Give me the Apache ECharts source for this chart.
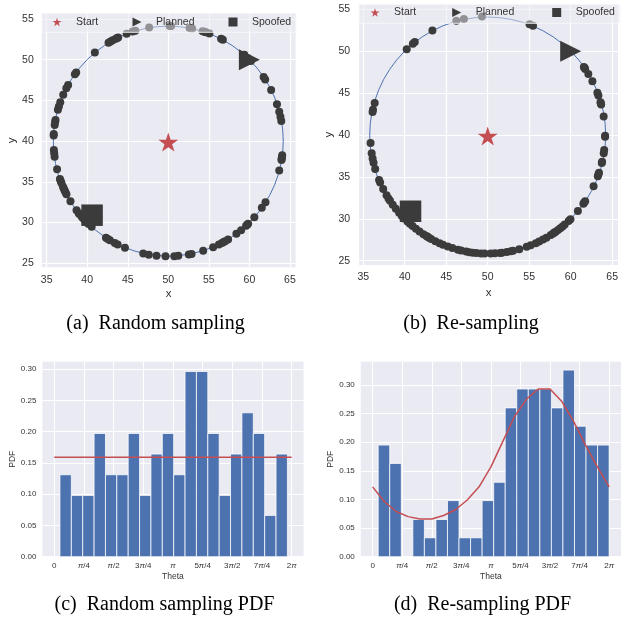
<!DOCTYPE html>
<html><head><meta charset="utf-8">
<script src="https://cdn.jsdelivr.net/npm/echarts@6/dist/echarts.min.js"></script>
<style>html,body{margin:0;padding:0;background:#fff}#c{width:621px;height:622px}</style>
</head><body><div id="c"></div>
<script>
// ---------------- data ----------------
const startPoint = [50, 40];
const plannedPoint = [60, 50];
const spoofedA = [40.6, 30.9];
const spoofedB = [40.7, 30.9];
const circleCenter = [50, 40];
const circleRadius = 14.15;

// sample angles (degrees)
const thetaA = [10.0, 12.2, 14.8, 18.7, 26.3, 32.4, 33.8, 44.0, 46.0, 48.5,
  61.6, 62.6, 69.0, 70.9, 71.6, 72.6, 78.0, 79.3, 88.6, 89.3,
  99.6, 106.7, 108.1, 111.3, 115.9, 116.5, 117.2, 119.0, 120.2, 121.4,
  129.8, 143.4, 144.5, 150.8, 152.7, 156.3, 160.3, 162.5,
  164.2, 169.4, 170.5, 171.9, 176.4, 177.2, 184.4, 186.1, 187.8, 194.2,
  199.2, 200.3, 201.5, 203.4, 204.3, 205.3, 206.3, 207.4, 211.5,
  216.9, 218.7, 219.2, 221.0, 222.0, 223.5, 225.0, 226.0, 228.1,
  237.1, 238.2, 239.4, 242.2, 243.8, 247.8, 257.4, 260.2, 264.1,
  268.6, 273.0, 275.0, 280.3, 281.7, 287.7, 293.0, 296.2, 297.9, 298.8, 299.7, 301.4,
  306.4, 309.4, 312.7, 313.4, 314.1, 318.6, 324.6, 327.9,
  345.2, 350.6, 351.2, 351.8, 353.0];
const thetaB = [9.0, 14.9, 15.5, 16.1, 19.5, 20.9, 26.9, 31.0, 33.9, 34.5, 35.0,
  67.3, 69.1, 92.8, 101.7, 105.5, 118.1, 128.4, 129.6, 133.6, 164.3,
  167.7, 168.8, 183.8, 188.8, 191.4, 193.5, 196.6,
  202.3, 203.6, 207.1, 210.5, 212.3, 213.7, 216.0, 218.5,
  221.0, 223.0, 225.0, 227.0, 228.5, 230.2, 232.3, 234.5, 236.8,
  238.5, 239.2, 240.0, 241.2, 243.5, 245.8, 247.6, 250.1, 252.5,
  255.3, 256.9, 259.4, 261.0, 262.7, 264.5, 266.8, 268.5, 271.5,
  273.5, 276.0, 277.0, 279.4, 281.4, 282.5, 285.6, 289.4,
  291.5, 294.2, 296.0, 298.1, 300.0, 302.5, 303.9, 304.6, 305.4, 306.8,
  308.2, 309.6, 311.0, 313.6, 314.8, 320.2, 324.6,
  325.3, 326.1, 334.4, 339.7, 340.5, 341.4,
  346.3, 347.0, 351.2, 352.8, 359.2, 359.6];

// histograms (theta in radians)
const binStartC = 0.151, binWidthC = 0.301;
const pdfC = [0.131, 0.098, 0.098, 0.197, 0.131, 0.131, 0.197, 0.098, 0.164, 0.197,
  0.131, 0.296, 0.296, 0.197, 0.098, 0.164, 0.230, 0.197, 0.066, 0.164];
const uniformPdf = 0.159;
const uniformTheta = [0, 6.283];

const binStartD = 0.148, binWidthD = 0.3067;
const pdfD = [0.195, 0.163, 0, 0.065, 0.033, 0.065, 0.098, 0.033, 0.033, 0.098,
  0.130, 0.260, 0.293, 0.293, 0.293, 0.260, 0.326, 0.228, 0.195, 0.195];
const fitTheta = [0, 0.314, 0.628, 0.942, 1.257, 1.571, 1.885, 2.199, 2.513, 2.827, 3.142,
  3.456, 3.770, 4.084, 4.398, 4.712, 5.027, 5.341, 5.655, 5.969, 6.283];
const fitPdfD = [0.122, 0.096, 0.079, 0.070, 0.066, 0.066, 0.072, 0.082, 0.099, 0.122, 0.157,
  0.201, 0.245, 0.275, 0.293, 0.293, 0.271, 0.236, 0.195, 0.157, 0.122];

// ticks
const xTicksTop = [35, 40, 45, 50, 55, 60, 65];
const yTicksTop = [25, 30, 35, 40, 45, 50, 55];
const pdfTicks = [0, 0.05, 0.10, 0.15, 0.20, 0.25, 0.30];
const thetaTickLabels = ['0', 'π/4', 'π/2', '3π/4', 'π', '5π/4', '3π/2', '7π/4', '2π'];
const thetaTicks = thetaTickLabels.map((_, k) => k * Math.PI / 4);

// ---------------- style ----------------
const BG = '#EAEAF2', BLUE = '#4C72B0', RED = '#C44E52', DARK = '#3b3b3b';
const FONT = 'Liberation Sans';
const TXT = '#333';
const STAR = 'path://M0,-100L22.45,-30.9L95.1,-30.9L36.3,11.8L58.8,80.9L0,38.2L-58.8,80.9L-36.3,11.8L-95.1,-30.9L-22.45,-30.9Z';
const TRI = 'path://M0,0L20,10L0,20Z';

function onCircle(deg) {
  const t = deg * Math.PI / 180;
  return [circleCenter[0] + circleRadius * Math.cos(t), circleCenter[1] + circleRadius * Math.sin(t)];
}

const grids = [
  {left: 41.8, top: 13.3, width: 253.8, height: 254},
  {left: 359.1, top: 4.3, width: 260.8, height: 260.6},
  {left: 42.4, top: 361.7, width: 261.1, height: 195},
  {left: 360.8, top: 361.7, width: 261.8, height: 195}
].map(g => Object.assign({show: true, backgroundColor: BG, borderWidth: 0}, g));

function valAxis(gi, min, max, ticks, o) {
  return {
    type: 'value', gridIndex: gi, min: min, max: max,
    name: o.name, nameLocation: 'middle', nameGap: o.nameGap,
    nameTextStyle: {fontSize: o.nameSize, color: TXT, fontFamily: FONT},
    axisLine: {show: false},
    axisTick: {show: false, customValues: ticks},
    axisLabel: {customValues: ticks, fontSize: o.labelSize, color: TXT, fontFamily: FONT,
      margin: o.margin, formatter: o.formatter, rich: o.rich},
    splitLine: {show: true, lineStyle: {color: '#ffffff', width: o.gridWidth}}
  };
}
const thetaFmt = v => {
  const k = Math.round(v / (Math.PI / 4));
  return (thetaTickLabels[k] || '').replace('π', '{i|π}');
};
const pdfFmt = v => v.toFixed(2);
const thetaRich = {i: {fontStyle: 'italic', fontSize: 8, color: TXT, fontFamily: FONT}};

const xAxis = [
  valAxis(0, 34.4, 65.7, xTicksTop, {name: 'x', nameGap: 21, nameSize: 11.5, labelSize: 10.5, margin: 7, gridWidth: 1.2}),
  valAxis(1, 34.5, 65.7, xTicksTop, {name: 'x', nameGap: 22, nameSize: 11.5, labelSize: 10.5, margin: 7, gridWidth: 1.2}),
  valAxis(2, -0.314, 6.597, thetaTicks, {name: 'Theta', nameGap: 15, nameSize: 8.5, labelSize: 8, margin: 5, gridWidth: 1, formatter: thetaFmt, rich: thetaRich}),
  valAxis(3, -0.314, 6.597, thetaTicks, {name: 'Theta', nameGap: 15, nameSize: 8.5, labelSize: 8, margin: 5, gridWidth: 1, formatter: thetaFmt, rich: thetaRich})
];
const yAxis = [
  valAxis(0, 24.5, 55.7, yTicksTop, {name: 'y', nameGap: 23, nameSize: 11.5, labelSize: 10.5, margin: 8, gridWidth: 1.2}),
  valAxis(1, 24.5, 55.6, yTicksTop, {name: 'y', nameGap: 22, nameSize: 11.5, labelSize: 10.5, margin: 9, gridWidth: 1.2}),
  valAxis(2, 0, 0.3117, pdfTicks, {name: 'PDF', nameGap: 25, nameSize: 8.5, labelSize: 8, margin: 6, gridWidth: 1, formatter: pdfFmt}),
  valAxis(3, 0, 0.3407, pdfTicks, {name: 'PDF', nameGap: 25, nameSize: 8.5, labelSize: 8, margin: 6, gridWidth: 1, formatter: pdfFmt})
];

function circleSeries(i) {
  return {
    type: 'custom', xAxisIndex: i, yAxisIndex: i, z: 1, silent: true,
    data: [[circleCenter[0], circleCenter[1], circleRadius]],
    renderItem: (params, api) => {
      const c = api.coord([api.value(0), api.value(1)]);
      const s = api.size([api.value(2), api.value(2)]);
      return {type: 'circle', shape: {cx: c[0], cy: c[1], r: (s[0] + s[1]) / 2},
        style: {fill: null, stroke: BLUE, lineWidth: 1}};
    }
  };
}
function scatterSet(i, thetas, spoof) {
  return [
    circleSeries(i),
    {type: 'scatter', name: 'samples', xAxisIndex: i, yAxisIndex: i, z: 2, silent: true,
      symbol: 'circle', symbolSize: 8, itemStyle: {color: DARK, opacity: 1},
      data: thetas.map(onCircle)},
    {type: 'scatter', name: 'Planned', xAxisIndex: i, yAxisIndex: i, z: 3, silent: true,
      symbol: TRI, symbolSize: 21, itemStyle: {color: DARK, opacity: 1}, data: [plannedPoint]},
    {type: 'scatter', name: 'Spoofed', xAxisIndex: i, yAxisIndex: i, z: 3, silent: true,
      symbol: 'rect', symbolSize: 21.5, itemStyle: {color: DARK, opacity: 1}, data: [spoof]},
    {type: 'scatter', name: 'Start', xAxisIndex: i, yAxisIndex: i, z: 3, silent: true,
      symbol: STAR, symbolSize: [20, 19], symbolOffset: [0, 1], itemStyle: {color: RED, opacity: 1}, data: [startPoint]}
  ];
}
function histSeries(i, start, width, vals) {
  return {
    type: 'custom', xAxisIndex: i, yAxisIndex: i, z: 2, silent: true,
    data: vals.map((v, k) => [start + k * width, start + (k + 1) * width, v]),
    encode: {x: [0, 1], y: 2},
    renderItem: (params, api) => {
      const v = api.value(2);
      if (!v) return null;
      const p0 = api.coord([api.value(0), v]);
      const p1 = api.coord([api.value(1), 0]);
      return {type: 'rect', shape: {x: p0[0], y: p0[1], width: p1[0] - p0[0], height: p1[1] - p0[1]},
        style: {fill: BLUE, stroke: 'rgba(255,255,255,0.85)', lineWidth: 0.9}};
    }
  };
}
function redLine(i, xs, ys) {
  return {type: 'line', xAxisIndex: i, yAxisIndex: i, z: 3, silent: true, symbol: 'none',
    lineStyle: {color: RED, width: 1.5}, data: xs.map((x, k) => [x, ys[k]])};
}

const series = [].concat(
  scatterSet(0, thetaA, spoofedA),
  scatterSet(1, thetaB, spoofedB),
  [histSeries(2, binStartC, binWidthC, pdfC),
   redLine(2, uniformTheta, uniformTheta.map(() => uniformPdf)),
   histSeries(3, binStartD, binWidthD, pdfD),
   redLine(3, fitTheta, fitPdfD)]
);

function oneLegend(name, left, top) {
  return {data: [name], left: left, top: top, padding: 0, itemGap: 0, itemWidth: 9, itemHeight: 9,
    selectedMode: false, z: 20,
    textStyle: {fontSize: 10.5, color: TXT, fontFamily: FONT, padding: [0, 0, 0, 9.5]}};
}
const legend = [
  oneLegend('Start', 52.5, 16.5), oneLegend('Planned', 132.5, 16.5), oneLegend('Spoofed', 228.5, 16.5),
  oneLegend('Start', 370.5, 7), oneLegend('Planned', 452.2, 7), oneLegend('Spoofed', 552.2, 7)
];

function caption(text, x, y) {
  return {type: 'text', x: x, y: y, z: 30,
    style: {text: text, fontSize: 20, fontFamily: 'Liberation Serif', fill: '#000',
      textAlign: 'center', textVerticalAlign: 'middle', align: 'center', verticalAlign: 'middle'}};
}
const graphic = [
  {type: 'rect', z: 10, shape: {x: 42, y: 13.3, width: 254, height: 19, r: 2},
    style: {fill: 'rgba(234,234,242,0.5)', stroke: 'rgba(248,248,251,0.9)', lineWidth: 1}},
  {type: 'rect', z: 10, shape: {x: 359.1, y: 4.3, width: 261, height: 19, r: 2},
    style: {fill: 'rgba(234,234,242,0.5)', stroke: 'rgba(248,248,251,0.9)', lineWidth: 1}},
  caption('(a)\u2002Random sampling', 155.5, 323.5),
  caption('(b)\u2002Re-sampling', 471, 323.5),
  caption('(c)\u2002Random sampling PDF', 164.5, 604.5),
  caption('(d)\u2002Re-sampling PDF', 482.5, 604.5)
];

const chart = echarts.init(document.getElementById('c'), null, {renderer: 'canvas', width: 621, height: 622});
chart.setOption({
  animation: false,
  backgroundColor: '#ffffff',
  grid: grids, xAxis: xAxis, yAxis: yAxis, series: series, legend: legend, graphic: graphic
});
</script></body></html>
